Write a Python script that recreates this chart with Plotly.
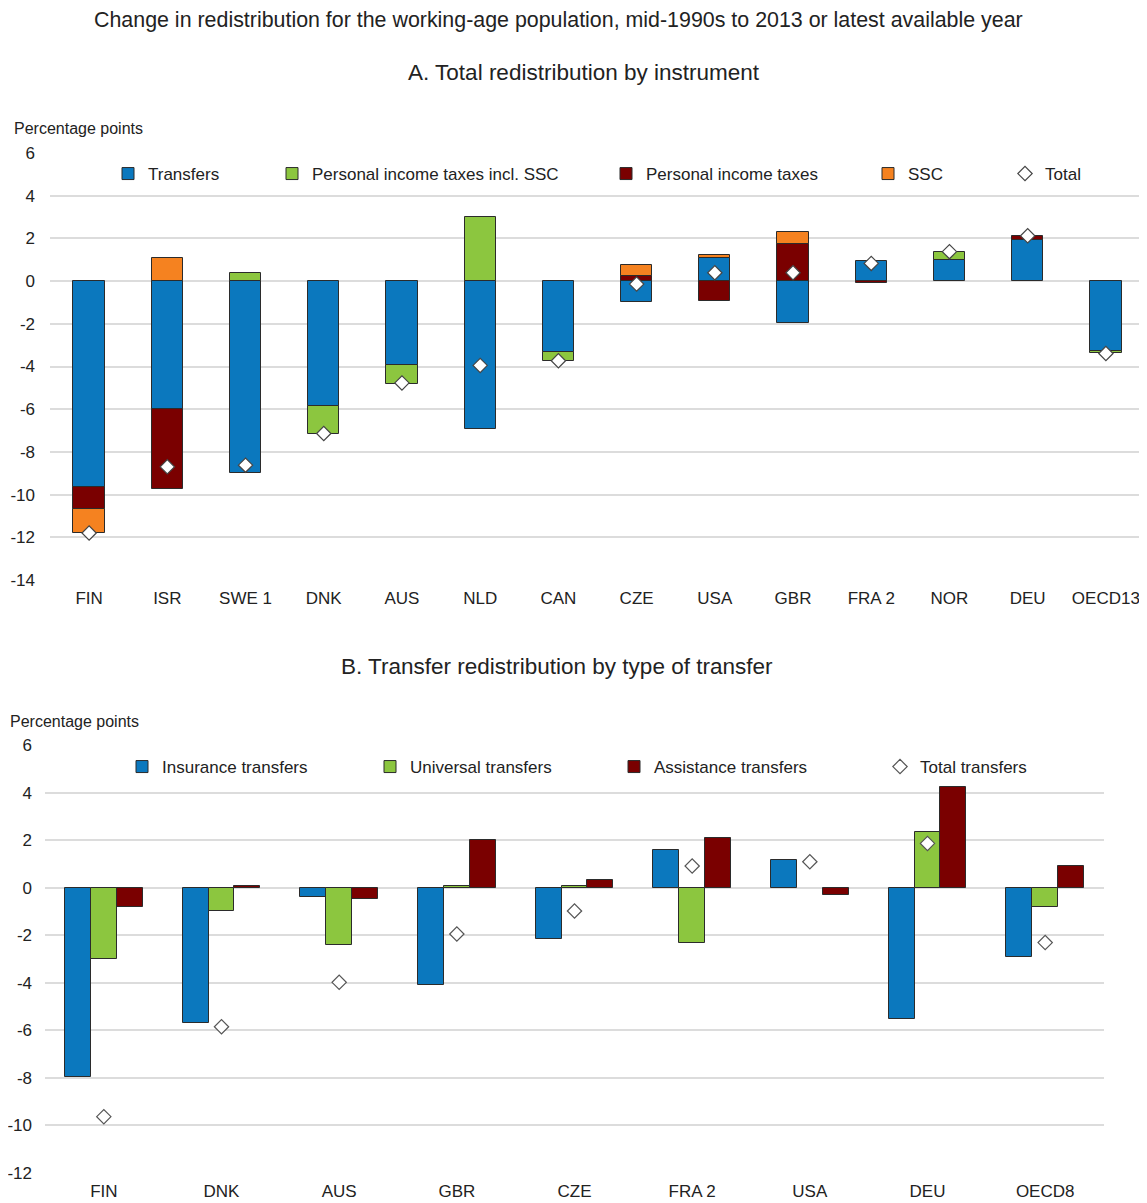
import plotly.graph_objects as go

# Panel A: total redistribution by instrument
countries_a = ["FIN", "ISR", "SWE 1", "DNK", "AUS", "NLD", "CAN", "CZE", "USA", "GBR", "FRA 2", "NOR", "DEU", "OECD13"]
transfers_a = [-9.64, -5.97, -8.98, -5.86, -3.94, -6.95, -3.34, -1.0, 1.1, -1.95, 0.95, 0.98, 1.92, -3.27]
pit_ssc_a = [None, None, 0.39, -1.28, -0.86, 2.98, -0.39, None, None, None, None, 0.4, None, -0.1]
pit_a = [-1.05, -3.78, None, None, None, None, None, 0.25, -0.92, 1.72, -0.1, None, 0.2, None]
ssc_a = [-1.1, 1.06, None, None, None, None, None, 0.52, 0.12, 0.56, None, None, None, None]
total_a = [-11.8, -8.7, -8.62, -7.14, -4.77, -3.95, -3.73, -0.14, 0.39, 0.39, 0.83, 1.38, 2.12, -3.39]
yticks_a = [6, 4, 2, 0, -2, -4, -6, -8, -10, -12, -14]

# Panel B: transfer redistribution by type of transfer
countries_b = ["FIN", "DNK", "AUS", "GBR", "CZE", "FRA 2", "USA", "DEU", "OECD8"]
insurance_b = [-7.95, -5.68, -0.38, -4.09, -2.16, 1.58, 1.16, -5.51, -2.9]
universal_b = [-2.99, -0.97, -2.41, 0.05, 0.06, -2.34, None, 2.34, -0.8]
assistance_b = [-0.8, 0.08, -0.46, 2.0, 0.32, 2.1, -0.31, 4.22, 0.91]
total_b = [-9.63, -5.85, -3.98, -1.95, -0.98, 0.91, 1.09, 1.86, -2.31]
yticks_b = [6, 4, 2, 0, -2, -4, -6, -8, -10, -12]

BLUE = "#0b78be"
GREEN = "#8cc63f"
DRED = "#7a0000"
ORANGE = "#f58220"
FONT = "Liberation Sans Narrow, Arial Narrow, Liberation Sans, Arial"
TXT = "#222"

# the page adds an 8px body margin, so the figure is a bit smaller than the window
OFF = 8
W, H = 1147 - OFF, 1203 - OFF
def px_x(p): return (p - OFF) / W
def px_y(p): return 1 - (p - OFF) / H

ya_range = [-14, 6]
yb_range = [-12, 6]
dom_xa = [px_x(50), px_x(1145)]
dom_ya = [px_y(580), px_y(153)]
dom_xb = [px_x(45), px_x(1104)]
dom_yb = [px_y(1173), px_y(745)]

fig = go.Figure()
edge = dict(color="#2b2b2b", width=1)

xa = list(range(len(countries_a)))
for name, vals, col, lg in [("Transfers", transfers_a, BLUE, "legend"),
                            ("Personal income taxes incl. SSC", pit_ssc_a, GREEN, "legend2"),
                            ("Personal income taxes", pit_a, DRED, "legend3"),
                            ("SSC", ssc_a, ORANGE, "legend4")]:
    fig.add_trace(go.Bar(x=xa, y=vals, name=name, marker=dict(color=col, line=edge),
                         width=0.4, xaxis="x", yaxis="y", legend=lg))
fig.add_trace(go.Scatter(x=xa, y=total_a, name="Total", mode="markers", legend="legend5",
                         marker=dict(symbol="diamond", size=11, color="white",
                                     line=dict(color="#444", width=1.2)),
                         xaxis="x", yaxis="y"))

xb = list(range(len(countries_b)))
bw = 0.22
for name, vals, col, shift, lg in [("Insurance transfers", insurance_b, BLUE, -bw, "legend6"),
                                   ("Universal transfers", universal_b, GREEN, 0, "legend7"),
                                   ("Assistance transfers", assistance_b, DRED, bw, "legend8")]:
    fig.add_trace(go.Bar(x=[i + shift for i in xb], y=vals, name=name,
                         marker=dict(color=col, line=edge), width=bw,
                         xaxis="x2", yaxis="y2", legend=lg))
fig.add_trace(go.Scatter(x=xb, y=total_b, name="Total transfers", mode="markers", legend="legend9",
                         marker=dict(symbol="diamond", size=11, color="white",
                                     line=dict(color="#555", width=1.2)),
                         xaxis="x2", yaxis="y2"))

tickfont = dict(family=FONT, size=17, color=TXT)
yax = dict(showgrid=True, gridcolor="#dcdcdc", gridwidth=2, zeroline=False, ticks="",
           tickfont=tickfont, showline=False, automargin=False)
xax = dict(showgrid=False, zeroline=False, ticks="", showline=False, tickfont=tickfont,
           ticklabelstandoff=6, automargin=False)

def zero_pos(dom, rng):
    return dom[0] + (0 - rng[0]) / (rng[1] - rng[0]) * (dom[1] - dom[0])

def zero_axis(over, dom_y, rng_y, n):
    return dict(overlaying=over, anchor="free", position=zero_pos(dom_y, rng_y),
                range=[-0.5, n - 0.5], tickvals=[i - 0.5 for i in range(n + 1)],
                ticks="inside", ticklen=5, tickwidth=1.3, tickcolor="black",
                showline=True, linecolor="black", linewidth=1.3, showticklabels=False,
                showgrid=False, zeroline=False, automargin=False)

fig.update_layout(
    width=W, height=H, margin=dict(l=0, r=0, t=0, b=0, autoexpand=False),
    paper_bgcolor="white", plot_bgcolor="white", showlegend=True,
    barmode="relative", bargap=0,
    font=dict(family=FONT, size=16, color=TXT),
    xaxis=dict(xax, domain=dom_xa, anchor="y", range=[-0.5, len(xa) - 0.5],
               tickvals=xa, ticktext=countries_a),
    yaxis=dict(yax, domain=dom_ya, anchor="x", range=ya_range, ticklabelstandoff=14,
               tickvals=yticks_a, ticktext=[str(v) for v in yticks_a]),
    xaxis2=dict(xax, domain=dom_xb, anchor="y2", range=[-0.5, len(xb) - 0.5],
                tickvals=xb, ticktext=countries_b),
    yaxis2=dict(yax, domain=dom_yb, anchor="x2", range=yb_range, ticklabelstandoff=12,
                tickvals=yticks_b, ticktext=[str(v) for v in yticks_b]),
    # zero lines with category separator ticks
    xaxis3=zero_axis("x", dom_ya, ya_range, len(xa)),
    xaxis4=zero_axis("x2", dom_yb, yb_range, len(xb)),
)

# legends placed to mimic the evenly spread legend rows
leg_font = dict(family=FONT, size=17, color=TXT)
legA = [("legend", 148), ("legend2", 312), ("legend3", 646), ("legend4", 908), ("legend5", 1045)]
legB = [("legend6", 162), ("legend7", 410), ("legend8", 654), ("legend9", 920)]
for key, tx in legA:
    fig.update_layout({key: dict(x=px_x(tx - 40), y=px_y(174), xanchor="left", yanchor="middle",
                                 orientation="h", font=leg_font, bgcolor="rgba(0,0,0,0)")})
for key, tx in legB:
    fig.update_layout({key: dict(x=px_x(tx - 40), y=px_y(767), xanchor="left", yanchor="middle",
                                 orientation="h", font=leg_font, bgcolor="rgba(0,0,0,0)")})

anns = [
    dict(text="Change in redistribution for the working-age population, mid-1990s to 2013 or latest available year",
         x=px_x(558), y=px_y(20), font=dict(family=FONT, size=21.4, color=TXT)),
    dict(text="A. Total redistribution by instrument", x=px_x(584), y=px_y(73),
         font=dict(family=FONT, size=22.5, color=TXT)),
    dict(text="B. Transfer redistribution by type of transfer", x=px_x(557), y=px_y(666),
         font=dict(family=FONT, size=22.5, color=TXT)),
    dict(text="Percentage points", x=px_x(12), y=px_y(128), xanchor="left",
         font=dict(family=FONT, size=16, color=TXT)),
    dict(text="Percentage points", x=px_x(8), y=px_y(721), xanchor="left",
         font=dict(family=FONT, size=16, color=TXT)),
]
for a in anns:
    a.setdefault("xanchor", "center")
    fig.add_annotation(xref="paper", yref="paper", yanchor="middle", showarrow=False, **a)

fig.write_html("out.html")
